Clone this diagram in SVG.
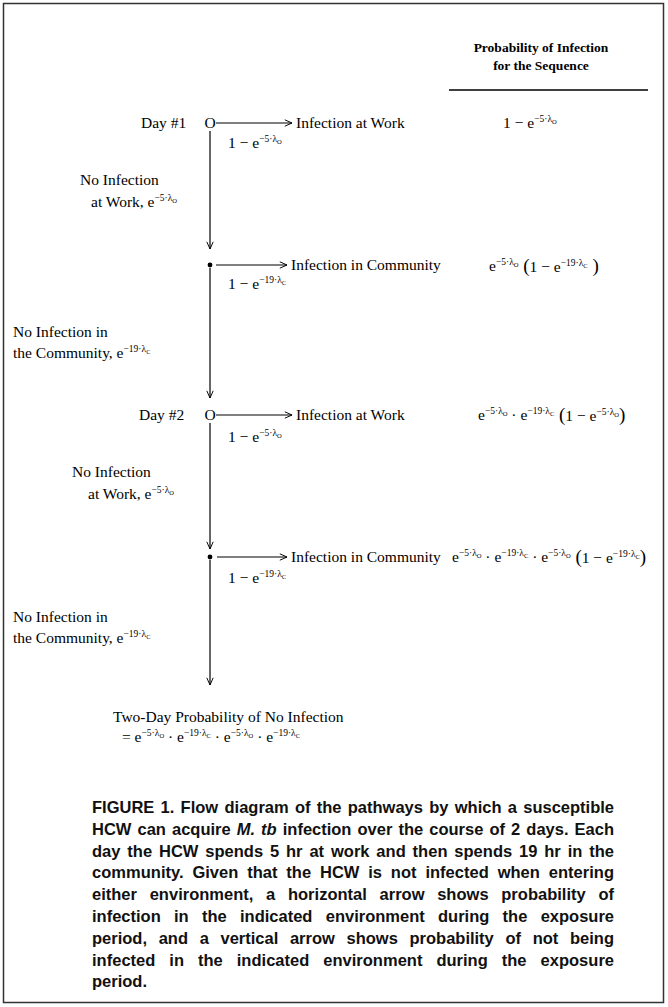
<svg xmlns="http://www.w3.org/2000/svg" width="668" height="1007" viewBox="0 0 668 1007">
<defs>
<marker id="ah" viewBox="0 0 10 10" refX="10" refY="5" markerWidth="8" markerHeight="8" markerUnits="userSpaceOnUse" orient="auto">
<path d="M1,1 L10,5 L1,9" fill="none" stroke="#000" stroke-width="1.2"/>
</marker>
<style>
.t{font-family:"Liberation Serif","Times New Roman",serif;font-size:15.5px;fill:#000}
.h{font-family:"Liberation Serif","Times New Roman",serif;font-size:13.5px;font-weight:bold;fill:#000}
.sp{font-size:9.5px}
.sb{font-size:6.5px}
.pa{font-size:19px}
.c{font-family:"Liberation Sans",Arial,sans-serif;font-size:16.5px;font-weight:bold;fill:#111}
.ln{stroke:#000;stroke-width:1.2;fill:none}
</style>
</defs>
<rect x="3.5" y="3.5" width="660" height="999" fill="#fff" stroke="#333" stroke-width="1.5"/>

<g id="header">
<text class="h" x="541" y="52" text-anchor="middle">Probability of Infection</text>
<text class="h" x="541" y="70" text-anchor="middle">for the Sequence</text>
<line x1="449" y1="90" x2="648" y2="90" stroke="#000" stroke-width="1.5"/>
</g>

<g id="connectors">
<line class="ln" x1="216" y1="123" x2="292" y2="123" marker-end="url(#ah)"/>
<line class="ln" x1="216" y1="265" x2="287" y2="265" marker-end="url(#ah)"/>
<line class="ln" x1="216" y1="415" x2="292" y2="415" marker-end="url(#ah)"/>
<line class="ln" x1="217" y1="557" x2="287" y2="557" marker-end="url(#ah)"/>
<line class="ln" x1="210" y1="131" x2="210" y2="249" marker-end="url(#ah)"/>
<line class="ln" x1="210" y1="268" x2="210" y2="398" marker-end="url(#ah)"/>
<line class="ln" x1="210" y1="423" x2="210" y2="549" marker-end="url(#ah)"/>
<line class="ln" x1="210" y1="560" x2="210" y2="685" marker-end="url(#ah)"/>
</g>

<g id="day1">
<text class="t" x="141" y="128">Day #1</text>
<text class="t" x="210" y="128" text-anchor="middle">O</text>
</g>
<g id="work1">
<text class="t" x="296" y="128">Infection at Work</text>
<text class="t" x="228" y="148">1 − e<tspan class="sp" dy="-6">−5·λ</tspan><tspan class="sb" dy="2">O</tspan></text>
<text class="t" x="503" y="128">1 − e<tspan class="sp" dy="-6">−5·λ</tspan><tspan class="sb" dy="2">O</tspan></text>
<text class="t" x="80" y="185">No Infection</text>
<text class="t" x="91" y="207">at Work,  e<tspan class="sp" dy="-6">−5·λ</tspan><tspan class="sb" dy="2">O</tspan></text>
</g>

<g id="node-community1">
<circle cx="210" cy="265" r="2.4" fill="#000"/>
<text class="t" x="291" y="270">Infection in Community</text>
<text class="t" x="228" y="289">1 − e<tspan class="sp" dy="-6">−19·λ</tspan><tspan class="sb" dy="2">C</tspan></text>
<text class="t" x="489" y="271">e<tspan class="sp" dy="-6">−5·λ</tspan><tspan class="sb" dy="2">O</tspan><tspan class="pa" dy="5"> (</tspan><tspan>1 − e</tspan><tspan class="sp" dy="-6">−19·λ</tspan><tspan class="sb" dy="2">C</tspan><tspan class="pa" dy="4"> )</tspan></text>
<text class="t" x="13" y="337">No Infection in</text>
<text class="t" x="13" y="358">the Community,  e<tspan class="sp" dy="-6">−19·λ</tspan><tspan class="sb" dy="2">C</tspan></text>
</g>

<g id="day2">
<text class="t" x="139" y="420">Day #2</text>
<text class="t" x="210" y="420" text-anchor="middle">O</text>
</g>
<g id="work2">
<text class="t" x="296" y="420">Infection at Work</text>
<text class="t" x="228" y="442">1 − e<tspan class="sp" dy="-6">−5·λ</tspan><tspan class="sb" dy="2">O</tspan></text>
<text class="t" x="478" y="420">e<tspan class="sp" dy="-6">−5·λ</tspan><tspan class="sb" dy="2">O</tspan><tspan dy="4"> · e</tspan><tspan class="sp" dy="-6">−19·λ</tspan><tspan class="sb" dy="2">C</tspan><tspan class="pa" dy="5"> (</tspan><tspan>1 − e</tspan><tspan class="sp" dy="-6">−5·λ</tspan><tspan class="sb" dy="2">O</tspan><tspan class="pa" dy="4">)</tspan></text>
<text class="t" x="72" y="477">No Infection</text>
<text class="t" x="88" y="499">at Work,  e<tspan class="sp" dy="-6">−5·λ</tspan><tspan class="sb" dy="2">O</tspan></text>
</g>

<g id="node-community2">
<circle cx="210" cy="557" r="2.4" fill="#000"/>
<text class="t" x="291" y="562">Infection in Community</text>
<text class="t" x="228" y="583">1 − e<tspan class="sp" dy="-6">−19·λ</tspan><tspan class="sb" dy="2">C</tspan></text>
<text class="t" x="452" y="562">e<tspan class="sp" dy="-6">−5·λ</tspan><tspan class="sb" dy="2">O</tspan><tspan dy="4"> · e</tspan><tspan class="sp" dy="-6">−19·λ</tspan><tspan class="sb" dy="2">C</tspan><tspan dy="4"> · e</tspan><tspan class="sp" dy="-6">−5·λ</tspan><tspan class="sb" dy="2">O</tspan><tspan class="pa" dy="5"> (</tspan><tspan>1 − e</tspan><tspan class="sp" dy="-6">−19·λ</tspan><tspan class="sb" dy="2">C</tspan><tspan class="pa" dy="4">)</tspan></text>
<text class="t" x="13" y="622">No Infection in</text>
<text class="t" x="13" y="643">the Community,  e<tspan class="sp" dy="-6">−19·λ</tspan><tspan class="sb" dy="2">C</tspan></text>
</g>

<g id="result">
<text class="t" x="113" y="722">Two-Day Probability of No Infection</text>
<text class="t" x="122" y="742">=  e<tspan class="sp" dy="-6">−5·λ</tspan><tspan class="sb" dy="2">O</tspan><tspan dy="4">  · e</tspan><tspan class="sp" dy="-6">−19·λ</tspan><tspan class="sb" dy="2">C</tspan><tspan dy="4">  · e</tspan><tspan class="sp" dy="-6">−5·λ</tspan><tspan class="sb" dy="2">O</tspan><tspan dy="4">  · e</tspan><tspan class="sp" dy="-6">−19·λ</tspan><tspan class="sb" dy="2">C</tspan></text>
</g>

<g id="caption">
<text class="c" x="92" y="813" word-spacing="1.7" textLength="522" lengthAdjust="spacing">FIGURE 1. Flow diagram of the pathways by which a susceptible</text>
<text class="c" x="92" y="834.8" word-spacing="1.5" textLength="522" lengthAdjust="spacing">HCW can acquire <tspan font-style="italic">M. tb</tspan> infection over the course of 2 days. Each</text>
<text class="c" x="92" y="856.6" word-spacing="2.3" textLength="522" lengthAdjust="spacing">day the HCW spends 5 hr at work and then spends 19 hr in the</text>
<text class="c" x="92" y="878.4" word-spacing="4.2" textLength="522" lengthAdjust="spacing">community. Given that the HCW is not infected when entering</text>
<text class="c" x="92" y="900.2" word-spacing="8.1" textLength="522" lengthAdjust="spacing">either environment, a horizontal arrow shows probability of</text>
<text class="c" x="92" y="922" word-spacing="8.7" textLength="522" lengthAdjust="spacing">infection in the indicated environment during the exposure</text>
<text class="c" x="92" y="943.8" word-spacing="7.1" textLength="522" lengthAdjust="spacing">period, and a vertical arrow shows probability of not being</text>
<text class="c" x="92" y="965.6" word-spacing="9.4" textLength="522" lengthAdjust="spacing">infected in the indicated environment during the exposure</text>
<text class="c" x="92" y="987.4">period.</text>
</g>
</svg>
